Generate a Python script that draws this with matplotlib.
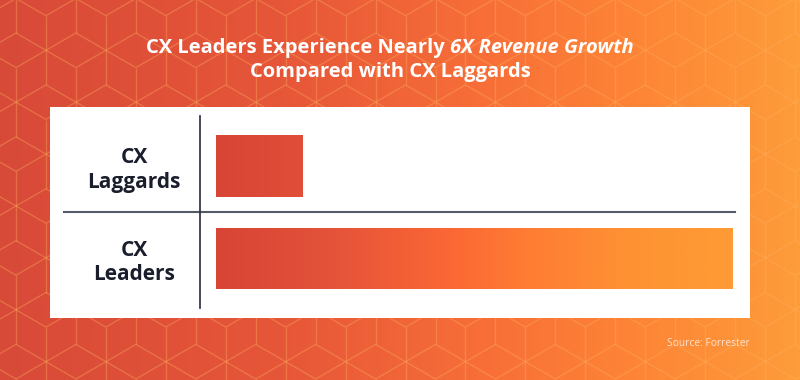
import matplotlib
matplotlib.use('Agg')
import matplotlib.pyplot as plt
import numpy as np
from matplotlib.colors import LinearSegmentedColormap
from matplotlib.collections import LineCollection
from matplotlib.patches import Rectangle

# Chart data
categories = ['CX\nLeaders', 'CX\nLaggards']
growth = [6.0, 1.0]   # relative revenue growth (leaders ~6x laggards)
title_plain = 'CX Leaders Experience Nearly '
title_italic = '6X Revenue Growth'
title_line2 = 'Compared with CX Laggards'
source = 'Source: Forrester'

W, H = 800, 380
FONT = 'Open Sans'

bg_cmap = LinearSegmentedColormap.from_list('bg', [
    (0.0, '#d84a38'), (0.35, '#e65638'), (0.6, '#f76e38'),
    (0.8, '#fe8536'), (1.0, '#fd9c3a')])
bar_cmap = LinearSegmentedColormap.from_list('bar', [
    (0.0, '#d84535'), (0.2, '#e2513a'), (0.45, '#fb6735'),
    (0.6, '#ff7c33'), (0.8, '#fe9233'), (1.0, '#fe9b35')])


# Rhombille ("cube") pattern drawn on the background
def hex_lines(s=34.6, ox=16, oy=33):
    e1 = np.array([0.0, s])
    e2 = np.array([s * np.cos(np.pi / 6), s * 0.5])
    segs = []
    for j in range(-3, 32):
        for i in range(-30, 30):
            p = np.array([ox, oy]) + i * e1 + j * e2
            if p[0] < -60 or p[0] > W + 60 or p[1] < -60 or p[1] > H + 60:
                continue
            c0 = (i - j + 2) % 3
            for di, dj in [(1, 0), (0, 1), (-1, 1)]:
                c1 = (i + di - j - dj + 2) % 3
                if {c0, c1} == {0, 2}:
                    continue
                q = p + di * e1 + dj * e2
                segs.append([p, q])
    return segs


fig = plt.figure(figsize=(8, 3.8), dpi=100)

# Background
bg = fig.add_axes([0, 0, 1, 1])
bg.set_zorder(-1)
grad = np.linspace(0, 1, 400).reshape(1, -1)
bg.imshow(grad, cmap=bg_cmap, extent=[0, W, H, 0], aspect='auto', zorder=0)
bg.add_collection(LineCollection(hex_lines(), colors='#ffb060', linewidths=1.0,
                                 alpha=0.35, zorder=1))
bg.add_patch(Rectangle((50, 107), 700, 211, facecolor='white', edgecolor='none', zorder=3))
bg.set_xlim(0, W)
bg.set_ylim(H, 0)
bg.axis('off')

# Bar chart
ax = fig.add_axes([200 / W, (H - 308) / H, 535 / W, 192 / H])
ax.set_facecolor('none')
ypos = np.arange(len(categories))
bh = 0.66
bars = ax.barh(ypos, growth, height=bh, color='none', edgecolor='none')
gmax = max(growth)
for b, y in zip(bars, ypos):
    im = ax.imshow(np.linspace(0, 1, 300).reshape(1, -1), cmap=bar_cmap,
                   extent=[0, gmax, y - bh / 2, y + bh / 2], aspect='auto')
    im.set_clip_path(b)

ax.set_xlim(-0.186, 6.023)
ax.set_ylim(-0.535, 1.54)
ax.set_yticks(ypos)
ax.set_yticklabels(categories, fontsize=15, fontweight='bold', color='#1a1e2c',
                   family=FONT, ha='center', multialignment='center')
ax.tick_params(axis='y', length=0, pad=47.5)
ax.set_xticks([])
for sp in ['top', 'right', 'bottom']:
    ax.spines[sp].set_visible(False)
ax.spines['left'].set_color('#252b3a')
ax.spines['left'].set_linewidth(1.2)
ax.axhline(0.5, xmin=(64 - 200) / 535, xmax=1.0, color='#555a66', lw=1.5, clip_on=False)

# Title with italic part
r = fig.canvas.get_renderer()
t1 = fig.text(0, 0, title_plain, fontsize=14.5, fontweight='bold', color='white', family=FONT)
t2 = fig.text(0, 0, title_italic, fontsize=14.5, fontweight='bold', style='italic',
              color='white', family=FONT)
w1 = t1.get_window_extent(r).width
w2 = t2.get_window_extent(r).width
x0 = 390 - (w1 + w2) / 2
y1 = 1 - 48 / H
t1.set_position((x0 / W, y1))
t1.set_va('center')
t2.set_position(((x0 + w1) / W, y1))
t2.set_va('center')
fig.text(390 / W, 1 - 72 / H, title_line2, fontsize=14.5, fontweight='bold', color='white',
         family=FONT, ha='center', va='center')

fig.text(750 / W, 1 - 343 / H, source, fontsize=7.4, color='#fde2cf', family=FONT,
         ha='right', va='center')

fig.savefig('out.png', dpi=100)
